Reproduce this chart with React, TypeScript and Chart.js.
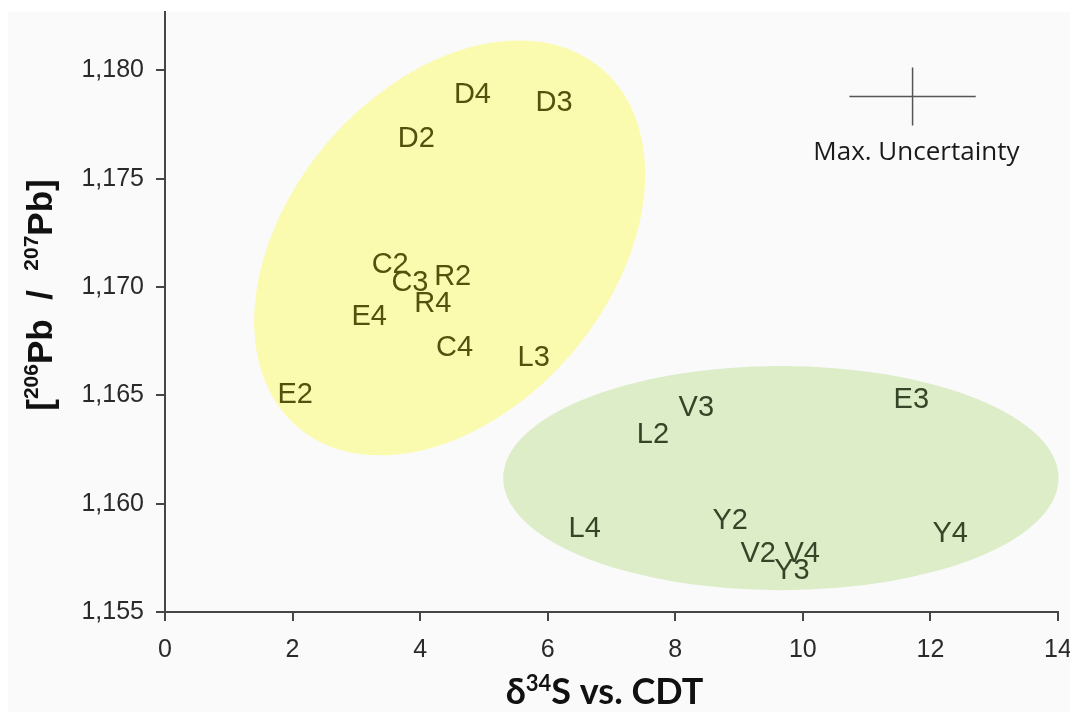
import React, { useEffect, useRef } from 'react';
import { Chart, registerables } from 'chart.js';

Chart.register(...registerables);

// ---- axis ranges / ticks ----
const xRange = [0, 14];
const yRange = [1.155, 1.1827];
const xTicks = [0, 2, 4, 6, 8, 10, 12, 14];
const yTicks = [1.155, 1.16, 1.165, 1.17, 1.175, 1.18];

// ---- group 1 (yellow) ----
const yellowLabels = ['D4', 'D3', 'D2', 'C2', 'C3', 'R2', 'R4', 'E4', 'C4', 'L3', 'E2'];
const yellowX = [4.82, 6.1, 3.94, 3.53, 3.84, 4.51, 4.2, 3.2, 4.54, 5.78, 2.04];
const yellowY = [1.17899, 1.17862, 1.17696, 1.17113, 1.17028, 1.17058, 1.16932, 1.16872, 1.16729, 1.16682, 1.16512];

// ---- group 2 (green) ----
const greenLabels = ['V3', 'L2', 'E3', 'L4', 'Y2', 'Y4', 'V2', 'V4', 'Y3'];
const greenX = [8.33, 7.65, 11.7, 6.58, 8.86, 12.31, 9.3, 9.99, 9.83];
const greenY = [1.16455, 1.16326, 1.16492, 1.15892, 1.15929, 1.15869, 1.15781, 1.15781, 1.15698];

// ---- group ellipses (center, end of major axis, minor/major ratio) ----
const yellowEllipseCenter = [4.463, 1.17181];
const yellowEllipseMajorEnd = [6.843, 1.18009];
const yellowEllipseRatio = 0.687;
const greenEllipseCenter = [9.655, 1.16118];
const greenEllipseMajorEnd = [14.008, 1.16118];
const greenEllipseRatio = 0.4036;

// ---- max. uncertainty cross ----
const uncertaintyCenter = [11.72, 1.1788];
const uncertaintyHalf = [0.99, 0.00134];
const uncertaintyText = 'Max. Uncertainty';
const uncertaintyTextPos = [11.78, 1.17631];

const COLORS = {
  page: '#ffffff',
  panel: '#fafafa',
  yellowFill: '#fbfbb0',
  greenFill: '#dcedc8',
  yellowText: '#52520e',
  greenText: '#354628',
  axis: '#454545',
  tick: '#2a2a2a',
  title: '#111111',
  cross: '#555555',
};

const TICK_FONT = '"Liberation Sans", Arial, sans-serif';

export default function App() {
  const ref = useRef<HTMLCanvasElement | null>(null);

  useEffect(() => {
    document.body.style.margin = '0';
    const canvas = ref.current;
    if (!canvas) return;

    const backgroundPlugin = {
      id: 'bgAndEllipses',
      beforeDraw(chart: any) {
        const ctx = chart.ctx;
        const xs = chart.scales.x;
        const ys = chart.scales.y;
        ctx.save();
        ctx.fillStyle = COLORS.page;
        ctx.fillRect(0, 0, chart.width, chart.height);
        ctx.fillStyle = COLORS.panel;
        ctx.fillRect(8, 12, chart.width - 8, chart.height - 13);
        const drawEllipse = (c: number[], m: number[], ratio: number, fill: string) => {
          const cx = xs.getPixelForValue(c[0]);
          const cy = ys.getPixelForValue(c[1]);
          const mx = xs.getPixelForValue(m[0]);
          const my = ys.getPixelForValue(m[1]);
          const a = Math.hypot(mx - cx, my - cy);
          const rot = Math.atan2(my - cy, mx - cx);
          ctx.beginPath();
          ctx.ellipse(cx, cy, a, a * ratio, rot, 0, Math.PI * 2);
          ctx.fillStyle = fill;
          ctx.fill();
        };
        drawEllipse(yellowEllipseCenter, yellowEllipseMajorEnd, yellowEllipseRatio, COLORS.yellowFill);
        drawEllipse(greenEllipseCenter, greenEllipseMajorEnd, greenEllipseRatio, COLORS.greenFill);
        ctx.restore();
      },
    };

    const labelsPlugin = {
      id: 'pointLabels',
      afterDatasetsDraw(chart: any) {
        const ctx = chart.ctx;
        const xs = chart.scales.x;
        const ys = chart.scales.y;
        ctx.save();
        const size = 29;
        ctx.font = `${size}px ${TICK_FONT}`;
        ctx.textAlign = 'center';
        ctx.textBaseline = 'alphabetic';
        chart.data.datasets.forEach((ds: any) => {
          if (!ds.pointLabels) return;
          ctx.fillStyle = ds.pointLabelColor;
          ds.data.forEach((p: any, i: number) => {
            const px = xs.getPixelForValue(p.x);
            const py = ys.getPixelForValue(p.y);
            ctx.fillText(ds.pointLabels[i], px, py + size * 0.358);
          });
        });
        // uncertainty caption
        const cs = 26;
        ctx.font = `${cs}px "Open Sans", Lato, sans-serif`;
        ctx.fillStyle = '#1a1a1a';
        const tx = xs.getPixelForValue(uncertaintyTextPos[0]);
        const ty = ys.getPixelForValue(uncertaintyTextPos[1]);
        ctx.fillText(uncertaintyText, tx, ty + cs * 0.36);
        ctx.restore();
      },
    };

    const titlesPlugin = {
      id: 'axisTitles',
      afterDraw(chart: any) {
        const ctx = chart.ctx;
        const area = chart.chartArea;
        ctx.save();
        ctx.fillStyle = COLORS.title;
        ctx.textBaseline = 'alphabetic';
        ctx.textAlign = 'left';

        type Part = { t: string; sup?: boolean };
        const drawRich = (parts: Part[], family: string, big: number, small: number, raise: number, cx: number, baseline: number) => {
          const fontOf = (p: Part) => `bold ${p.sup ? small : big}px ${family}`;
          let total = 0;
          const widths = parts.map((p) => {
            ctx.font = fontOf(p);
            const w = ctx.measureText(p.t).width;
            total += w;
            return w;
          });
          let x = cx - total / 2;
          parts.forEach((p, i) => {
            ctx.font = fontOf(p);
            ctx.fillText(p.t, x, p.sup ? baseline - raise : baseline);
            x += widths[i];
          });
        };

        // x title
        drawRich(
          [{ t: 'δ' }, { t: '34', sup: true }, { t: 'S vs. CDT' }],
          'Lato, "Open Sans", sans-serif',
          36,
          22,
          13,
          (area.left + area.right) / 2 - 7,
          704
        );

        // y title (rotated)
        ctx.translate(52, 295);
        ctx.rotate(-Math.PI / 2);
        drawRich(
          [
            { t: '[' },
            { t: '206', sup: true },
            { t: 'Pb  /  ' },
            { t: '207', sup: true },
            { t: 'Pb]' },
          ],
          '"Liberation Sans", Arial, sans-serif',
          35,
          21,
          14,
          0,
          0
        );
        ctx.restore();
      },
    };

    const chart = new Chart(canvas, {
      type: 'scatter',
      data: {
        datasets: [
          {
            label: 'Group 1',
            data: yellowX.map((x, i) => ({ x, y: yellowY[i] })),
            pointRadius: 0,
            pointHoverRadius: 0,
            pointLabels: yellowLabels,
            pointLabelColor: COLORS.yellowText,
          } as any,
          {
            label: 'Group 2',
            data: greenX.map((x, i) => ({ x, y: greenY[i] })),
            pointRadius: 0,
            pointHoverRadius: 0,
            pointLabels: greenLabels,
            pointLabelColor: COLORS.greenText,
          } as any,
          {
            label: 'Max. Uncertainty (x)',
            data: [
              { x: uncertaintyCenter[0] - uncertaintyHalf[0], y: uncertaintyCenter[1] },
              { x: uncertaintyCenter[0] + uncertaintyHalf[0], y: uncertaintyCenter[1] },
            ],
            showLine: true,
            borderColor: COLORS.cross,
            borderWidth: 1.5,
            pointRadius: 0,
          },
          {
            label: 'Max. Uncertainty (y)',
            data: [
              { x: uncertaintyCenter[0], y: uncertaintyCenter[1] - uncertaintyHalf[1] },
              { x: uncertaintyCenter[0], y: uncertaintyCenter[1] + uncertaintyHalf[1] },
            ],
            showLine: true,
            borderColor: COLORS.cross,
            borderWidth: 1.5,
            pointRadius: 0,
          },
        ],
      },
      options: {
        animation: false,
        responsive: false,
        events: [],
        layout: { padding: { top: 0, right: 0, left: 0, bottom: 0 } },
        plugins: { legend: { display: false }, tooltip: { enabled: false } },
        scales: {
          x: {
            type: 'linear',
            min: xRange[0],
            max: xRange[1],
            afterBuildTicks: (s: any) => {
              s.ticks = xTicks.map((v) => ({ value: v }));
            },
            afterFit: (s: any) => {
              s.height = 101;
              s.paddingLeft = 0;
              s.paddingRight = 12;
            },
            ticks: {
              font: { family: TICK_FONT, size: 25 },
              color: COLORS.tick,
              padding: 14,
              maxRotation: 0,
              callback: (v: any) => String(v),
            },
            grid: { drawOnChartArea: false, drawTicks: true, tickLength: 9, color: COLORS.axis, lineWidth: 2 },
            border: { display: true, color: COLORS.axis, width: 2 },
          },
          y: {
            type: 'linear',
            min: yRange[0],
            max: yRange[1],
            afterBuildTicks: (s: any) => {
              s.ticks = yTicks.map((v) => ({ value: v }));
            },
            afterFit: (s: any) => {
              s.width = 165;
              s.paddingTop = 12;
              s.paddingBottom = 0;
            },
            ticks: {
              font: { family: TICK_FONT, size: 25 },
              color: COLORS.tick,
              padding: 12,
              callback: (v: any) => Number(v).toFixed(3).replace('.', ','),
            },
            grid: { drawOnChartArea: false, drawTicks: true, tickLength: 9, color: COLORS.axis, lineWidth: 2 },
            border: { display: true, color: COLORS.axis, width: 2 },
          },
        },
      } as any,
      plugins: [backgroundPlugin, labelsPlugin, titlesPlugin],
    });

    return () => chart.destroy();
  }, []);

  return <canvas ref={ref} width={1070} height={713} style={{ display: 'block' }} />;
}
